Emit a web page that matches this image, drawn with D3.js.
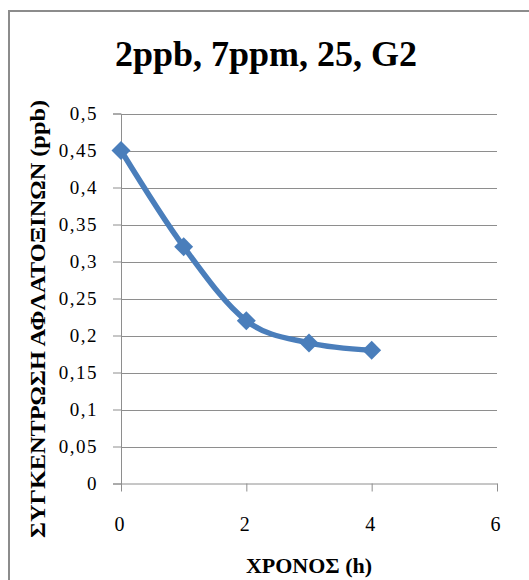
<!DOCTYPE html>
<html>
<head>
<meta charset="utf-8">
<script src="https://cdn.jsdelivr.net/npm/d3@7"></script>
<style>
  html, body { margin: 0; padding: 0; background: #fff; }
  svg { display: block; }
</style>
</head>
<body>
<svg id="chart" width="529" height="580"></svg>
<script>
// Aflatoxin concentration over time
const hours = [0, 1, 2, 3, 4];
const concentration = [0.45, 0.32, 0.22, 0.19, 0.18];
const xTicks = [0, 2, 4, 6];
const yTicks = [0, 0.05, 0.1, 0.15, 0.2, 0.25, 0.3, 0.35, 0.4, 0.45, 0.5];
const titleText = "2ppb, 7ppm, 25, G2";
const xTitle = "ΧΡΟΝΟΣ (h)";
const yTitle = "ΣΥΓΚΕΝΤΡΩΣΗ ΑΦΛΑΤΟΞΙΝΩΝ (ppb)";

const svg = d3.select("#chart");
const serif = '"Liberation Serif"';
const gridColor = "#8e8e8e";
const blue = "#4A7EBB";

// chart frame
svg.append("rect")
  .attr("x", 9).attr("y", 11)
  .attr("width", 560).attr("height", 600)
  .attr("fill", "none")
  .attr("stroke", "#8c8c8c")
  .attr("stroke-width", 2);

const x = d3.scaleLinear().domain([0, 6]).range([121, 497]);
const y = d3.scaleLinear().domain([0, 0.5]).range([483.5, 113.5]);

// horizontal gridlines
svg.append("g")
  .selectAll("line")
  .data(yTicks.filter(d => d > 0))
  .join("line")
  .attr("x1", x(0)).attr("x2", x(6))
  .attr("y1", d => Math.round(y(d)) + 0.5)
  .attr("y2", d => Math.round(y(d)) + 0.5)
  .attr("stroke", gridColor)
  .attr("stroke-width", 1);

const fmt = d => String(d).replace(".", ",");

// y axis
const yAxis = svg.append("g")
  .attr("transform", `translate(${x(0)},0)`)
  .call(d3.axisLeft(y).tickValues(yTicks).tickSize(8).tickPadding(15).tickFormat(fmt));
yAxis.attr("font-family", null);
yAxis.select(".domain").attr("stroke", gridColor);
yAxis.selectAll(".tick line").attr("stroke", gridColor);
yAxis.selectAll(".tick text")
  .style("font-family", serif).attr("font-size", 19).attr("fill", "#000")
  .attr("letter-spacing", 1.5);

// x axis
const xAxis = svg.append("g")
  .attr("transform", `translate(0,${y(0)})`)
  .call(d3.axisBottom(x).tickValues(xTicks).tickSize(8).tickPadding(25).tickSizeOuter(0)
    .tickFormat(d => String(d)));
xAxis.attr("font-family", null);
xAxis.select(".domain").attr("stroke", gridColor);
xAxis.selectAll(".tick line").attr("stroke", gridColor);
xAxis.selectAll(".tick text")
  .style("font-family", serif).attr("font-size", 20).attr("fill", "#000")
  .attr("dx", -2);

// smoothed data line
const data = hours.map((h, i) => ({ h, c: concentration[i] }));
const line = d3.line()
  .x(d => x(d.h))
  .y(d => y(d.c))
  .curve(d3.curveCatmullRom.alpha(0));
svg.append("path")
  .datum(data)
  .attr("d", line)
  .attr("fill", "none")
  .attr("stroke", blue)
  .attr("stroke-width", 5.5)
  .attr("stroke-linejoin", "round")
  .attr("stroke-linecap", "round");

// diamond markers
const diamond = d3.symbol().type(d3.symbolSquare).size(180);
svg.append("g")
  .selectAll("path")
  .data(data)
  .join("path")
  .attr("d", diamond)
  .attr("transform", d => `translate(${x(d.h)},${y(d.c)}) rotate(45)`)
  .attr("fill", blue);

// titles
svg.append("text")
  .attr("x", 266).attr("y", 66)
  .attr("text-anchor", "middle")
  .style("font-family", serif).attr("font-weight", "bold").attr("font-size", 36)
  .text(titleText);

svg.append("text")
  .attr("x", (x(0) + x(6)) / 2).attr("y", 573)
  .attr("text-anchor", "middle")
  .style("font-family", serif).attr("font-weight", "bold").attr("font-size", 22)
  .text(xTitle);

svg.append("text")
  .attr("transform", "translate(45,319) rotate(-90)")
  .attr("text-anchor", "middle")
  .style("font-family", serif).attr("font-weight", "bold").attr("font-size", 22)
  .attr("textLength", 438).attr("lengthAdjust", "spacingAndGlyphs")
  .text(yTitle);
</script>
</body>
</html>
